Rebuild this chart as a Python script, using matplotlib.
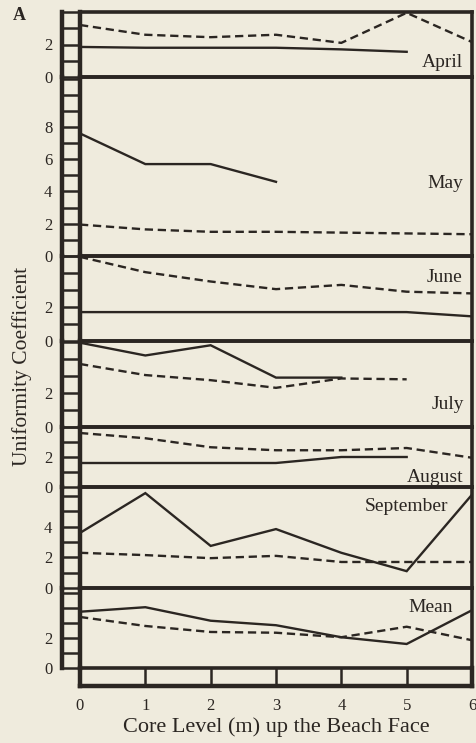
import matplotlib.pyplot as plt

plt.rcParams['font.family'] = ['Liberation Serif', 'DejaVu Serif']

W, H = 477, 743
BG = '#efebdd'
INK = '#2b2622'
PT = 72.0/100.0  # points per pixel at dpi 100

# core levels (m) up the beach face
levels = [0, 1, 2, 3, 4, 5, 6]
months = ['April', 'May', 'June', 'July', 'August', 'September', 'Mean']

# uniformity coefficient, solid and dashed curve per panel
april_solid = [1.85, 1.8, 1.8, 1.8, 1.7, 1.55]
april_dashed = [3.2, 2.6, 2.45, 2.6, 2.1, 3.95, 2.15]
may_solid = [7.6, 5.7, 5.7, 4.6]
may_dashed = [1.95, 1.65, 1.5, 1.5, 1.45, 1.4, 1.35]
june_solid = [1.7, 1.7, 1.7, 1.7, 1.7, 1.7, 1.45]
june_dashed = [4.95, 4.05, 3.5, 3.05, 3.3, 2.9, 2.8]
july_solid = [4.95, 4.2, 4.8, 2.9, 2.9]
july_dashed = [3.7, 3.05, 2.75, 2.3, 2.85, 2.8]
august_solid = [1.6, 1.6, 1.6, 1.6, 2.0, 2.0]
august_dashed = [3.6, 3.25, 2.65, 2.45, 2.45, 2.6, 1.95]
september_solid = [3.6, 6.2, 2.75, 3.85, 2.3, 1.1, 6.1]
september_dashed = [2.3, 2.15, 1.95, 2.1, 1.7, 1.7, 1.7]
mean_solid = [3.75, 4.05, 3.15, 2.85, 2.05, 1.6, 3.85]
mean_dashed = [3.4, 2.8, 2.4, 2.35, 2.05, 2.75, 1.85]

solids = [april_solid, may_solid, june_solid, july_solid, august_solid,
          september_solid, mean_solid]
dashes = [april_dashed, may_dashed, june_dashed, july_dashed,
          august_dashed, september_dashed, mean_dashed]
labelled_ticks = [[0, 2], [0, 2, 4, 6, 8], [0, 2], [0, 2], [0, 2],
                  [0, 2, 4], [0, 2]]

# layout: panel top/bottom in pixels, y range, month label placement
panel_px = [(12, 77), (77, 256), (256, 341), (341, 427), (427, 487),
            (487, 588), (588, 668)]
ymax = [4.0, 11.1, 5.0, 5.05, 4.0, 6.6, 5.33]
name_pos = [(463, 0.62), (463, 4.2), (462, 3.47), (464, 1.06),
            (463, 0.33), (448, 5.0), (453, 3.73)]
X0, X1 = 80, 472
RULER = 18  # ruler width in pixels

fig = plt.figure(figsize=(W/100, H/100), dpi=100, facecolor=BG)


def px_axes(x0, y0, x1, y1):
    return fig.add_axes([x0/W, 1 - y1/H, (x1 - x0)/W, (y1 - y0)/H])


for i, month in enumerate(months):
    top, bot = panel_px[i]
    ax = px_axes(X0, top, X1, bot)
    ax.set_facecolor('none')
    ax.set_xlim(0, 6)
    ax.set_ylim(0, ymax[i])
    for side in ['top', 'bottom', 'right']:
        ax.spines[side].set_linewidth(2.6)
        ax.spines[side].set_color(INK)
    ax.spines['left'].set_position(('outward', RULER*PT))
    ax.spines['left'].set_linewidth(3.2)
    ax.spines['left'].set_color(INK)
    ax.axvline(0, color=INK, lw=3.2, clip_on=False, zorder=5)
    ax.set_xticks([])
    rungs = list(range(0, int(ymax[i]) + 1))
    ax.set_yticks(rungs)
    ax.set_yticklabels([str(r) if r in labelled_ticks[i] else ''
                        for r in rungs])
    ax.tick_params(axis='y', direction='in', length=RULER*PT, width=1.8,
                   color=INK, labelcolor=INK, labelsize=12, pad=7)
    sol = solids[i]
    das = dashes[i]
    ax.plot(levels[:len(sol)], sol, color=INK, lw=1.7,
            solid_joinstyle='miter')
    ax.plot(levels[:len(das)], das, color=INK, lw=1.7,
            linestyle=(0, (3.5, 2.0)))
    xr, yb = name_pos[i]
    ax.text((xr - X0)/(X1 - X0)*6, yb, month, ha='right', va='baseline',
            fontsize=14, color=INK)

# horizontal ruler along the bottom
axr = px_axes(X0, panel_px[-1][1], X1, panel_px[-1][1] + RULER)
axr.set_facecolor('none')
axr.set_xlim(0, 6)
axr.set_ylim(0, 1)
axr.spines['top'].set_visible(False)
for side in ['left', 'right', 'bottom']:
    axr.spines[side].set_linewidth(3.2)
    axr.spines[side].set_color(INK)
axr.set_yticks([])
axr.set_xticks(levels)
axr.set_xticklabels([str(v) for v in levels])
axr.tick_params(axis='x', direction='in', length=RULER*PT, width=1.8,
                color=INK, labelcolor=INK, labelsize=12, pad=9)
axr.set_xlabel('Core Level (m) up the Beach Face', fontsize=16, color=INK,
               labelpad=2)

fig.text(22/W, 1 - 366/H, 'Uniformity Coefficient', rotation=90,
         ha='center', va='center', fontsize=15.5, color=INK)
fig.text(19/W, 1 - 16/H, 'A', ha='center', va='center', fontsize=13,
         fontweight='bold', color=INK)

fig.savefig('out.png', dpi=100, facecolor=BG)
